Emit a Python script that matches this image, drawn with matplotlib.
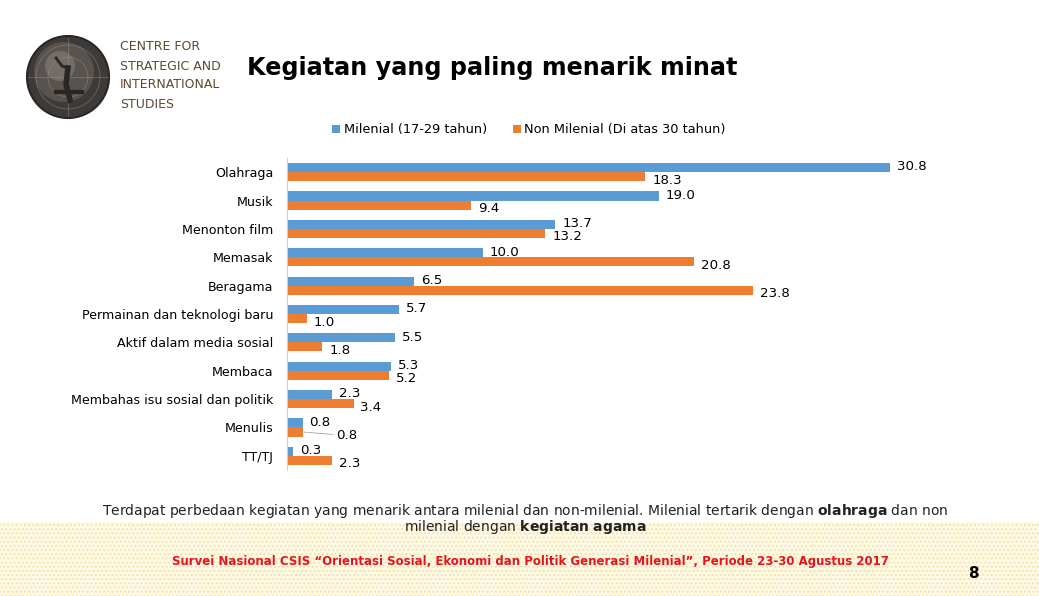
import numpy as np
import matplotlib.pyplot as plt
from matplotlib.patches import Circle, Rectangle

# data
kategori = ["Olahraga", "Musik", "Menonton film", "Memasak", "Beragama",
            "Permainan dan teknologi baru", "Aktif dalam media sosial",
            "Membaca", "Membahas isu sosial dan politik", "Menulis", "TT/TJ"]
milenial = [30.8, 19.0, 13.7, 10.0, 6.5, 5.7, 5.5, 5.3, 2.3, 0.8, 0.3]
non_milenial = [18.3, 9.4, 13.2, 20.8, 23.8, 1.0, 1.8, 5.2, 3.4, 0.8, 2.3]
nama_seri = ["Milenial (17-29 tahun)", "Non Milenial (Di atas 30 tahun)"]

biru = "#5b9bd5"
oranye = "#ed7d31"
W, H = 1039, 596

fig = plt.figure(figsize=(W / 100, H / 100), dpi=100)
fig.patch.set_facecolor("white")

# footer band with dotted yellow pattern
bg = fig.add_axes([0, 0, 1, 1], zorder=-5)
bg.set_xlim(0, W)
bg.set_ylim(H, 0)
bg.axis("off")
bg.add_patch(Rectangle((0, 522), W, H - 522, facecolor="#fefaea",
                       edgecolor="#f6e3a6", hatch="....", linewidth=0))

# logo (rough globe)
bg.add_patch(Circle((68, 77), 41, facecolor="#3e3a38", edgecolor="#2a2624", lw=1.5))
bg.add_patch(Circle((64, 72), 30, facecolor="#6a6460", edgecolor="none", alpha=0.6))
bg.add_patch(Circle((60, 66), 15, facecolor="#8d8782", edgecolor="none", alpha=0.5))
for r in [20, 32]:
    bg.add_patch(Circle((68, 77), r, facecolor="none", edgecolor="#9a948e", lw=0.5, alpha=0.6))
bg.plot([68, 68], [38, 116], color="#9a948e", lw=0.5, alpha=0.6)
bg.plot([28, 108], [77, 77], color="#9a948e", lw=0.5, alpha=0.6)
bg.plot([56, 62, 68], [58, 66, 68], color="#2a2624", lw=2)
bg.plot([68, 66, 70], [68, 84, 100], color="#2a2624", lw=4)
bg.plot([56, 82], [92, 92], color="#2a2624", lw=3)

logo_txt = ["CENTRE FOR", "STRATEGIC AND", "INTERNATIONAL", "STUDIES"]
for i, t in enumerate(logo_txt):
    bg.text(120, 47 + i * 19, t, fontsize=9, color="#5a4a30", va="center",
            ha="left", family="DejaVu Sans")

fig.text(247 / W, 1 - 68 / H, "Kegiatan yang paling menarik minat",
         fontsize=17.2, fontweight="bold", ha="left", va="center")

# chart
ax = fig.add_axes([287 / W, 1 - 470 / H, 685 / W, 312 / H])
y = np.arange(len(kategori))
h = 0.32
b1 = ax.barh(y - h / 2, milenial, height=h, color=biru, label=nama_seri[0])
b2 = ax.barh(y + h / 2, non_milenial, height=h, color=oranye, label=nama_seri[1])
ax.set_xlim(0, 35)
ax.set_ylim(len(kategori) - 0.5, -0.5)
ax.set_yticks(y)
ax.set_yticklabels(kategori, fontsize=9.1)
ax.tick_params(axis="y", length=0, pad=10)
ax.set_xticks([])
for s in ["top", "right", "bottom"]:
    ax.spines[s].set_visible(False)
ax.spines["left"].set_color("#d0d0d0")

for i, v in enumerate(milenial):
    ax.annotate(f"{v:.1f}", (v, i - h / 2), xytext=(5, 0.5), textcoords="offset points",
                va="center", ha="left", fontsize=9.6)
for i, v in enumerate(non_milenial):
    if kategori[i] == "Menulis":
        ax.annotate(f"{v:.1f}", (v, i + h / 2), xytext=(24, -2.5), textcoords="offset points",
                    va="center", ha="left", fontsize=9.6,
                    arrowprops=dict(arrowstyle="-", color="#a6a6a6", lw=0.6,
                                    shrinkA=0, shrinkB=1))
    else:
        ax.annotate(f"{v:.1f}", (v, i + h / 2), xytext=(5, -2.5), textcoords="offset points",
                    va="center", ha="left", fontsize=9.6)

fig.legend(handles=[b1, b2], loc="center", bbox_to_anchor=(529 / W, 1 - 130 / H),
           ncol=2, frameon=False, fontsize=9.3, handlelength=0.6, handleheight=0.6,
           handletextpad=0.3, columnspacing=2.0)

# captions
fig.text(525 / W, 1 - 511 / H,
         r"Terdapat perbedaan kegiatan yang menarik antara milenial dan non-milenial. "
         r"Milenial tertarik dengan $\bf{olahraga}$ dan non",
         fontsize=10, ha="center", va="center", color="#222222")
fig.text(525 / W, 1 - 527 / H, r"milenial dengan $\bf{kegiatan\ agama}$",
         fontsize=10, ha="center", va="center", color="#222222")
fig.text(530 / W, 1 - 562 / H,
         "Survei Nasional CSIS \u201cOrientasi Sosial, Ekonomi dan Politik Generasi Milenial\u201d, "
         "Periode 23-30 Agustus 2017",
         fontsize=8.5, fontweight="bold", color="#e8141b", ha="center", va="center")
fig.text(973 / W, 1 - 573 / H, "8", fontsize=11, fontweight="bold", ha="center", va="center")

fig.savefig("out.png", dpi=100)
